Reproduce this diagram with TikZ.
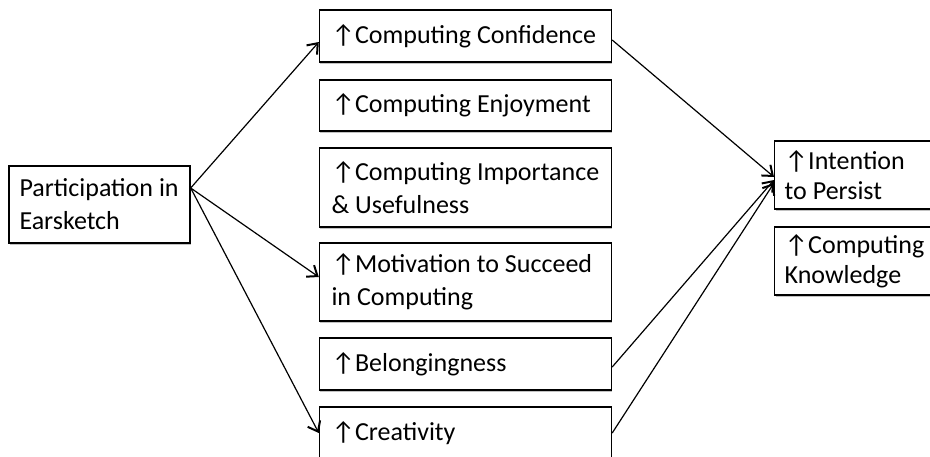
\documentclass[tikz,border=0pt]{standalone}
\usepackage{fontspec}
\setmainfont{Carlito}
\usetikzlibrary{arrows.meta,shadows}
\tikzset{>={Straight Barb[length=4.5pt,width=7pt,line width=1pt]}}
\tikzset{
  factor/.style = {draw, line width=0.7pt, fill=white, align=left,
    inner xsep=6pt, inner ysep=2pt,
    font=\fontsize{13}{16.5}\selectfont,
    execute at begin node={\spaceskip=0.23em\relax\hyphenpenalty=10000\relax},
    drop shadow={shadow xshift=0.4pt, shadow yshift=-0.8pt, fill=black!40, opacity=0.6}},
  mid/.style = {factor, text width=134pt},
  side/.style = {factor, anchor=west, text width=100pt, minimum height=34pt,
    inner xsep=5pt, inner ysep=1pt, font=\fontsize{13}{15}\selectfont},
  link/.style = {->, line width=0.6pt}
}
\newcommand{\incr}{↑}

\begin{document}
\begin{tikzpicture}[x=0.5pt,y=-0.5pt]
    \useasboundingbox (0,0) rectangle (930,456);
    \node[factor, text width=80pt, inner xsep=5.25pt, minimum height=38.5pt] (part) at (99.5,204.5) {Participation in\\Earsketch};
    \node[mid, minimum height=26pt] (conf) at (465.5,36) {\incr Computing Confidence};
    \node[mid, minimum height=25.5pt] (enjoy) at (465.5,105.5) {\incr Computing Enjoyment};
    \node[mid, minimum height=39.5pt] (impo) at (465.5,187.5) {\incr Computing Importance\\\& Usefulness};
    \node[mid, minimum height=39pt] (motiv) at (465.5,282) {\incr Motivation to Succeed\\in Computing};
    \node[mid, minimum height=26pt] (belong) at (465.5,364) {\incr Belongingness};
    \node[mid, minimum height=26pt] (creat) at (465.5,433) {\incr Creativity};
    \node[side] (persist) at (774,175) {\incr Intention\\to Persist};
    \node[side] (know) at (774,261) {\incr Computing\\Knowledge};
    % participation fans out to the middle column
    \coordinate (fork) at ([yshift=8.25pt]part.east);
    \draw[link] (fork) -- ([yshift=-3pt]conf.west);
    \draw[link] (fork) -- ([yshift=2.5pt]motiv.west);
    \draw[link] (fork) -- (creat.west);
    % middle column feeds intention to persist
    \draw[link] ([yshift=-2pt]conf.east) -- ([yshift=-1pt]persist.west);
    \draw[link] ([yshift=-1.5pt]belong.east) -- ([yshift=-2.5pt]persist.west);
    \draw[link] (creat.east) -- ([yshift=-4pt]persist.west);
\end{tikzpicture}
\end{document}
